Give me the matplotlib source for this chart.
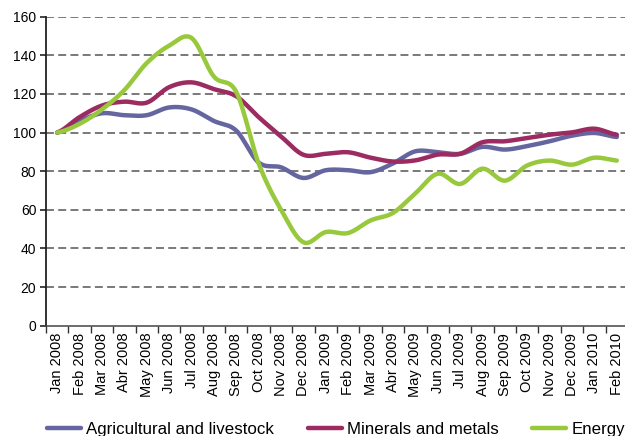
import numpy as np
import matplotlib
matplotlib.use("Agg")
import matplotlib.pyplot as plt

months = ["Jan 2008", "Feb 2008", "Mar 2008", "Abr 2008", "May 2008", "Jun 2008",
          "Jul 2008", "Aug 2008", "Sep 2008", "Oct 2008", "Nov 2008", "Dec 2008",
          "Jan 2009", "Feb 2009", "Mar 2009", "Abr 2009", "May 2009", "Jun 2009",
          "Jul 2009", "Aug 2009", "Sep 2009", "Oct 2009", "Nov 2009", "Dec 2009",
          "Jan 2010", "Feb 2010"]

agricultural = [100, 106, 110, 109, 109, 113, 112, 106, 101, 84.5, 82, 76.5,
                80.5, 80.5, 79.5, 84, 90.3, 89.8, 89, 92.6, 91.2, 93, 95.5, 98.4,
                99.8, 97.7]
minerals = [100, 108, 114, 116, 115.5, 123.5, 126, 122.5, 118.8, 108, 98, 88.5,
            89, 89.8, 87, 85, 85.6, 88.6, 89, 95, 95.5, 97.2, 98.9, 100.1,
            102, 98.9]
energy = [100, 104.5, 112, 122, 136, 145, 149, 129, 121, 84, 60, 43.2,
          48.5, 48, 54.5, 58.4, 68.5, 78.7, 73.4, 81.3, 75.1, 83, 85.5, 83.4,
          87, 85.5]

series_names = ["Agricultural and livestock", "Minerals and metals", "Energy"]
colors = ["#65669f", "#9b2b60", "#98c93c"]


def smooth(vals, n=24):
    y = np.asarray(vals, dtype=float)
    p = np.concatenate([[y[0]], y, [y[-1]]])
    xs, ys = [], []
    for i in range(len(y) - 1):
        p0, p1, p2, p3 = p[i], p[i + 1], p[i + 2], p[i + 3]
        t = np.linspace(0, 1, n, endpoint=False)
        seg = 0.5 * ((2 * p1) + (-p0 + p2) * t + (2 * p0 - 5 * p1 + 4 * p2 - p3) * t ** 2
                     + (-p0 + 3 * p1 - 3 * p2 + p3) * t ** 3)
        xs.append(i + t)
        ys.append(seg)
    xs.append([len(y) - 1])
    ys.append([y[-1]])
    return np.concatenate(xs), np.concatenate(ys)


plt.rcParams['font.family'] = ['Liberation Sans', 'DejaVu Sans']

fig = plt.figure(figsize=(6.25, 4.36), dpi=100)
ax = fig.add_axes([0.0736, 0.253, 0.9312, 0.7087])

x = np.arange(len(months))
for vals, name, c in zip([agricultural, minerals, energy], series_names, colors):
    sx, sy = smooth(vals)
    ax.plot(sx, sy, color=c, lw=3.2, label=name, solid_capstyle='round', zorder=3)

ax.set_xlim(-0.5, len(months) - 0.5)
ax.set_ylim(0, 160)
ax.set_yticks(np.arange(0, 161, 20))
ax.set_xticks(x)
ax.set_xticklabels(months, rotation=90, fontsize=10.5)
ax.set_xticks(np.arange(-0.5, len(months), 1), minor=True)
ax.tick_params(axis='x', which='major', length=0, pad=5)
ax.tick_params(axis='x', which='minor', length=5, width=1, color='#333333', direction='out')
ax.tick_params(axis='y', length=4, width=1.2, color='#222222', labelsize=10, pad=3)

for v in range(20, 161, 20):
    ax.axhline(v, color='#555555', lw=1.1, linestyle=(0, (5.2, 2.8)), zorder=1)

for s in ['top', 'right']:
    ax.spines[s].set_visible(False)
ax.spines['left'].set_linewidth(1.3)
ax.spines['left'].set_color('#222222')
ax.spines['bottom'].set_linewidth(1.1)
ax.spines['bottom'].set_color('#444444')

fig.legend(loc='center left', bbox_to_anchor=(0.075, 0.014), ncol=3, frameon=False,
           fontsize=12.2, handlelength=2.0, handletextpad=0.3, columnspacing=2.0,
           borderaxespad=0, borderpad=0)

fig.savefig("out.png", dpi=100)
